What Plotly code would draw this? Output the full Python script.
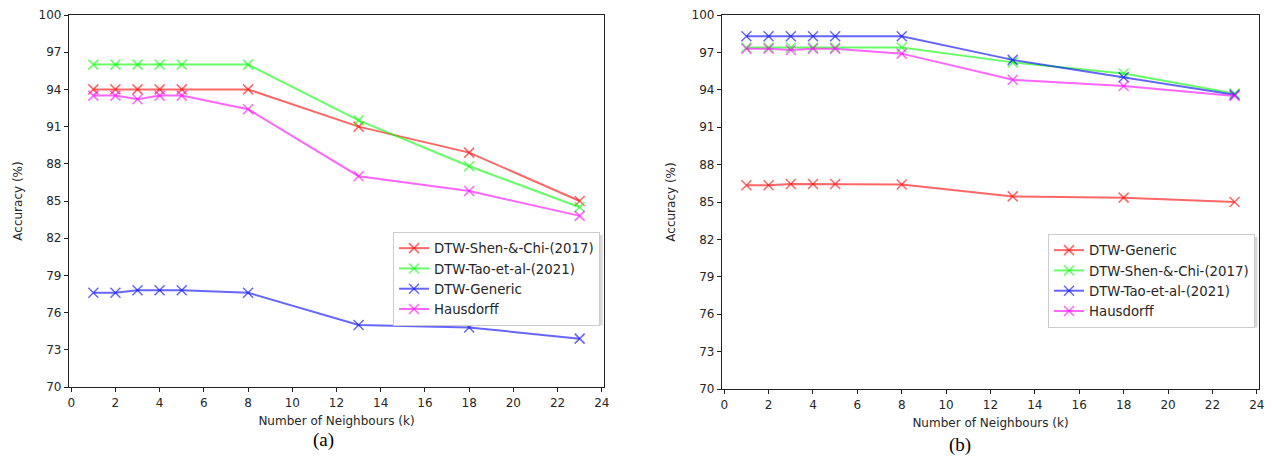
import plotly.graph_objects as go

k = [1, 2, 3, 4, 5, 8, 13, 18, 23]

# Panel (a)
a_shen = [94.0, 94.0, 94.0, 94.0, 94.0, 94.0, 91.0, 88.9, 85.0]
a_tao = [96.0, 96.0, 96.0, 96.0, 96.0, 96.0, 91.5, 87.8, 84.5]
a_generic = [77.6, 77.6, 77.8, 77.8, 77.8, 77.6, 75.0, 74.8, 73.9]
a_haus = [93.5, 93.5, 93.2, 93.5, 93.5, 92.4, 87.0, 85.8, 83.8]

# Panel (b)
b_generic = [86.35, 86.35, 86.45, 86.45, 86.45, 86.4, 85.45, 85.35, 85.0]
b_shen = [97.4, 97.4, 97.4, 97.4, 97.4, 97.4, 96.2, 95.3, 93.7]
b_tao = [98.3, 98.3, 98.3, 98.3, 98.3, 98.3, 96.4, 95.0, 93.6]
b_haus = [97.3, 97.3, 97.2, 97.3, 97.3, 96.9, 94.8, 94.3, 93.5]

y_ticks = [70, 73, 76, 79, 82, 85, 88, 91, 94, 97, 100]
x_ticks = [0, 2, 4, 6, 8, 10, 12, 14, 16, 18, 20, 22, 24]

RED = "rgba(255,0,0,0.6)"
GREEN = "rgba(0,255,0,0.6)"
BLUE = "rgba(0,0,255,0.6)"
MAG = "rgba(255,0,255,0.6)"

W, H = 1272, 471
fig = go.Figure()

def add(x, y, name, color, xa, ya, leg):
    fig.add_trace(go.Scatter(
        x=x, y=y, name=name, mode="lines+markers",
        line=dict(color=color, width=2),
        marker=dict(symbol="x-thin", size=10, line=dict(color=color, width=1.5), color=color),
        xaxis=xa, yaxis=ya, legend=leg))

add(k, a_shen, "DTW-Shen-&-Chi-(2017)", RED, "x", "y", "legend")
add(k, a_tao, "DTW-Tao-et-al-(2021)", GREEN, "x", "y", "legend")
add(k, a_generic, "DTW-Generic", BLUE, "x", "y", "legend")
add(k, a_haus, "Hausdorff", MAG, "x", "y", "legend")

add(k, b_generic, "DTW-Generic", RED, "x2", "y2", "legend2")
add(k, b_shen, "DTW-Shen-&-Chi-(2017)", GREEN, "x2", "y2", "legend2")
add(k, b_tao, "DTW-Tao-et-al-(2021)", BLUE, "x2", "y2", "legend2")
add(k, b_haus, "Hausdorff", MAG, "x2", "y2", "legend2")

def px(x): return x / W
def py(y): return 1 - y / H

axis_common = dict(showline=True, linecolor="#222", linewidth=1.2, mirror=True,
                   ticks="outside", ticklen=4, tickcolor="#222", showgrid=False,
                   zeroline=False, automargin=False,
                   tickfont=dict(family="DejaVu Sans", size=12, color="#262626"))

xa_common = dict(axis_common, range=[-0.1, 24.1], tickvals=x_ticks,
                 title=dict(text="Number of Neighbours (k)", font=dict(family="DejaVu Sans", size=12, color="#262626"), standoff=8))
ya_common = dict(axis_common, range=[70, 100], tickvals=y_ticks,
                 title=dict(text="Accuracy (%)", font=dict(family="DejaVu Sans", size=12, color="#262626"), standoff=13))

legend_common = dict(bgcolor="white", bordercolor="#cccccc", borderwidth=1,
                     font=dict(family="DejaVu Sans", size=13.3, color="#262626"),
                     xanchor="right", yanchor="top", tracegroupgap=0, itemwidth=30)

fig.update_layout(
    width=W, height=H, margin=dict(l=0, r=0, t=0, b=0, autoexpand=False),
    plot_bgcolor="white", paper_bgcolor="white",
    xaxis=dict(xa_common, domain=[px(69), px(604)], anchor="y"),
    yaxis=dict(ya_common, domain=[py(387), py(15)], anchor="x"),
    xaxis2=dict(xa_common, domain=[px(722), px(1259)], anchor="y2"),
    yaxis2=dict(ya_common, domain=[py(389), py(15)], anchor="x2"),
    legend=dict(legend_common, x=px(600), y=py(232)),
    legend2=dict(legend_common, x=px(1255), y=py(234)),
    annotations=[
        dict(text="(a)", x=px(311), y=py(453), xref="paper", yref="paper", showarrow=False,
             font=dict(family="Liberation Serif", size=19, color="black")),
        dict(text="(b)", x=px(973), y=py(458), xref="paper", yref="paper", showarrow=False,
             font=dict(family="Liberation Serif", size=19, color="black")),
    ],
    shapes=[
        dict(type="rect", xref="paper", yref="paper", x0=px(480), x1=px(602.5), y0=py(235), y1=py(325.5),
             fillcolor="rgba(0,0,0,0.15)", line=dict(width=0), layer="above"),
        dict(type="rect", xref="paper", yref="paper", x0=px(1130), x1=px(1257.5), y0=py(237), y1=py(327.5),
             fillcolor="rgba(0,0,0,0.15)", line=dict(width=0), layer="above"),
    ],
)

fig.write_html("out.html", config={"displayModeBar": False},
               post_script="document.body.style.margin='0';")
